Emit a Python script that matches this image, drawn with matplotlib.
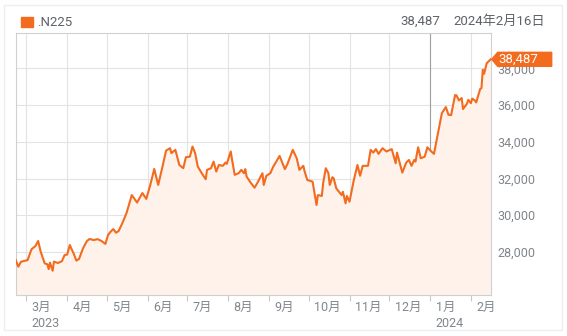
import matplotlib
matplotlib.use("Agg")
import matplotlib.pyplot as plt
import matplotlib.dates as mdates
import matplotlib.patches as mpatches
import matplotlib.transforms as mtransforms
import pandas as pd

plt.rcParams['font.family'] = ['Roboto', 'Noto Sans CJK JP', 'DejaVu Sans']

# Nikkei 225 (.N225)
dates = [
    "2023-02-21", "2023-02-23", "2023-02-25", "2023-03-02", "2023-03-05", "2023-03-08",
    "2023-03-10", "2023-03-12", "2023-03-15", "2023-03-17", "2023-03-18", "2023-03-19",
    "2023-03-21", "2023-03-22", "2023-03-25", "2023-03-28", "2023-03-30", "2023-04-01",
    "2023-04-03", "2023-04-06", "2023-04-08", "2023-04-10", "2023-04-13", "2023-04-16",
    "2023-04-18", "2023-04-21", "2023-04-24", "2023-04-27", "2023-04-30", "2023-05-02",
    "2023-05-04", "2023-05-06", "2023-05-08", "2023-05-10", "2023-05-13", "2023-05-16",
    "2023-05-20", "2023-05-24", "2023-05-28", "2023-05-31", "2023-06-03", "2023-06-06",
    "2023-06-09", "2023-06-12", "2023-06-15", "2023-06-18", "2023-06-19", "2023-06-22",
    "2023-06-25", "2023-06-28", "2023-06-30", "2023-07-03", "2023-07-05", "2023-07-07",
    "2023-07-09", "2023-07-12", "2023-07-15", "2023-07-16", "2023-07-19", "2023-07-21",
    "2023-07-23", "2023-07-25", "2023-07-28", "2023-07-30", "2023-07-31", "2023-08-03",
    "2023-08-04", "2023-08-06", "2023-08-09", "2023-08-11", "2023-08-13", "2023-08-14",
    "2023-08-15", "2023-08-18", "2023-08-21", "2023-08-23", "2023-08-27", "2023-08-28",
    "2023-08-30", "2023-09-02", "2023-09-04", "2023-09-09", "2023-09-13", "2023-09-15",
    "2023-09-19", "2023-09-22", "2023-09-24", "2023-09-27", "2023-09-28", "2023-09-30",
    "2023-10-04", "2023-10-07", "2023-10-08", "2023-10-11", "2023-10-12", "2023-10-14",
    "2023-10-16", "2023-10-17", "2023-10-19", "2023-10-20", "2023-10-22", "2023-10-26",
    "2023-10-27", "2023-10-29", "2023-10-30", "2023-11-01", "2023-11-04", "2023-11-07",
    "2023-11-09", "2023-11-11", "2023-11-15", "2023-11-17", "2023-11-19", "2023-11-21",
    "2023-11-23", "2023-11-26", "2023-11-29", "2023-12-03", "2023-12-06", "2023-12-07",
    "2023-12-11", "2023-12-14", "2023-12-16", "2023-12-18", "2023-12-20", "2023-12-21",
    "2023-12-23", "2023-12-25", "2023-12-28", "2023-12-30", "2024-01-02", "2024-01-04",
    "2024-01-08", "2024-01-10", "2024-01-13", "2024-01-15", "2024-01-17", "2024-01-20",
    "2024-01-21", "2024-01-23", "2024-01-25", "2024-01-26", "2024-01-29", "2024-01-30",
    "2024-02-01", "2024-02-02", "2024-02-04", "2024-02-05", "2024-02-08", "2024-02-09",
    "2024-02-10", "2024-02-11", "2024-02-13", "2024-02-16",
]
values = [
    27560, 27200, 27470, 27560, 28150, 28330,
    28600, 28000, 27380, 27330, 27070, 27420,
    26980, 27480, 27400, 27500, 27830, 27860,
    28380, 27900, 27530, 27620, 28200, 28600,
    28710, 28650, 28700, 28600, 28440, 28930,
    29110, 29250, 29050, 29140, 29600, 30120,
    31100, 30690, 31210, 30890, 31650, 32520,
    31650, 32570, 33520, 33650, 33380, 33560,
    32740, 32560, 33160, 33190, 33740, 33380,
    32650, 32290, 31960, 32470, 32560, 32920,
    32380, 32740, 32690, 32870, 32800, 33470,
    33010, 32200, 32290, 32470, 32290, 32510,
    32110, 31780, 31500, 31740, 32290, 31650,
    32150, 32290, 32620, 33230, 32510, 32800,
    33560, 33100, 32470, 32690, 32380, 31920,
    31830, 30560, 31100, 31050, 31740, 32560,
    32290, 31650, 32070, 32010, 31460, 31100,
    31280, 30650, 31050, 30740, 31830, 32740,
    32150, 32690, 32690, 33560, 33410, 33600,
    33340, 33650, 33470, 33600, 32830, 33410,
    32320, 32870, 33010, 32690, 33010, 32920,
    33700, 33100, 33190, 33700, 33470, 33340,
    34830, 35560, 35890, 35470, 35450, 36540,
    36530, 36250, 36380, 35780, 36070, 36280,
    36100, 36350, 36250, 36140, 36870, 36920,
    37920, 37700, 38280, 38487,
]
month_labels = ["3月", "4月", "5月", "6月", "7月", "8月", "9月", "10月", "11月", "12月", "1月", "2月"]
month_starts = ["2023-03-01", "2023-04-01", "2023-05-01", "2023-06-01", "2023-07-01", "2023-08-01",
                "2023-09-01", "2023-10-01", "2023-11-01", "2023-12-01", "2024-01-01", "2024-02-01"]
year_labels = {"3月": "2023", "1月": "2024"}
y_ticks = [28000, 30000, 32000, 34000, 36000, 38000]
symbol = ".N225"
last_date_label = "2024年2月16日"

line_color = "#f26b1f"
fill_color = "#fef2ea"
grid_color = "#e3e3e3"
text_color = "#80868b"

x = pd.to_datetime(dates)
ticks = pd.to_datetime(month_starts)

fig = plt.figure(figsize=(5.67, 3.36), dpi=100)
ax = fig.add_axes([15.7 / 567, 1 - 295 / 336, 475 / 567, 262 / 336])

ax.fill_between(x, values, 20000, color=fill_color, lw=0, zorder=1)
ax.plot(x, values, color=line_color, lw=1.5, zorder=3, solid_joinstyle='round')

ax.set_xlim(x[0], x[-1])
ax.set_ylim(25660, 39920)

ax.set_xticks(ticks)
ax.set_yticks(y_ticks)
ax.yaxis.tick_right()
ax.grid(True, color=grid_color, lw=0.8, zorder=0)
ax.set_axisbelow(True)
# year boundary, hidden under the filled area
ax.axvline(pd.Timestamp("2024-01-01"), color="#a0a0a0", lw=0.8, zorder=0.9)

ax.tick_params(axis='x', labelbottom=False, length=4, color="#c8c8c8", width=0.8)
ax.tick_params(axis='y', length=0, pad=4.5, labelsize=9, labelcolor=text_color)
ax.yaxis.set_major_formatter(matplotlib.ticker.FuncFormatter(lambda v, p: f"{int(v):,}"))
for s in ax.spines.values():
    s.set_color("#d0d0d0")
    s.set_linewidth(0.8)

for t, lab in zip(ticks, month_labels):
    ax.annotate(lab, xy=(mdates.date2num(t), 0), xycoords=('data', 'axes fraction'),
                xytext=(4, -4.5), textcoords='offset points', ha='left', va='top',
                fontsize=9, color=text_color)
    if lab in year_labels:
        ax.annotate(year_labels[lab], xy=(mdates.date2num(t), 0), xycoords=('data', 'axes fraction'),
                    xytext=(4, -15.5), textcoords='offset points', ha='left', va='top',
                    fontsize=9, color=text_color)

# header
fig.patches.append(mpatches.Rectangle((21 / 567, 1 - 27 / 336), 12 / 567, 10 / 336,
                                      transform=fig.transFigure, color=line_color))
fig.text(37 / 567, 1 - 22 / 336, symbol, fontsize=9.5, color="#5f6368", va='center', ha='left')
fig.text(440 / 567, 1 - 21 / 336, f"{values[-1]:,}", fontsize=9.5, color="#5f6368", va='center', ha='right')
fig.text(545 / 567, 1 - 21 / 336, last_date_label, fontsize=9.5, color="#5f6368", va='center', ha='right')

# card border
fig.patches.append(mpatches.Rectangle((4 / 567, 1 - 330 / 336), 558 / 567, 325 / 336,
                                      transform=fig.transFigure, fill=False, ec="#eeeeee", lw=1))

# last value callout
fig.canvas.draw()
px, py = ax.transData.transform((mdates.date2num(x[-1]), values[-1]))
ident = mtransforms.IdentityTransform()
tag = mpatches.Polygon([(px + 1, py), (px + 7, py + 7), (px + 61, py + 7), (px + 61, py - 7), (px + 7, py - 7)],
                       closed=True, transform=ident, color=line_color, zorder=10, clip_on=False)
fig.patches.append(tag)
fig.text(px + 8, py, f"{values[-1]:,}", transform=ident, fontsize=9.5, color="white",
         va='center', ha='left', zorder=11)

fig.savefig("out.png", dpi=100)
